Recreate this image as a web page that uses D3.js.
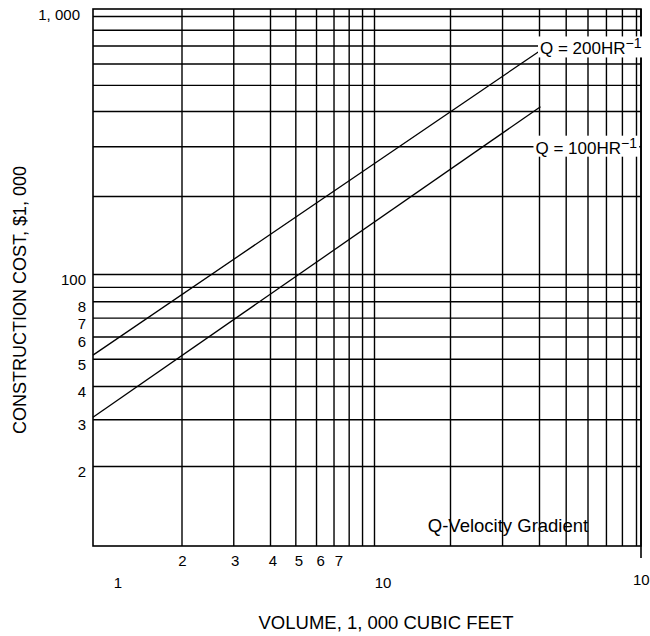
<!DOCTYPE html>
<html>
<head>
<meta charset="UTF-8">
<title>Construction cost vs volume</title>
<style>
  body { margin: 0; background: #fff; }
  text { font-family: "Liberation Sans", Arial, sans-serif; fill: #000; }
</style>
</head>
<body>
<div id="chart"></div>
<script src="https://cdn.jsdelivr.net/npm/d3@7"></script>
<script>
// grid values (log-log paper)
var xGrid = [2, 3, 4, 5, 6, 7, 8, 9, 10, 20, 30, 40, 50, 60, 70, 80, 90];
var yGrid = [20, 30, 40, 50, 60, 70, 80, 90, 100, 200, 300, 400, 500, 600, 700, 800, 900];

// tick labels as printed on the chart
var xTickValues = [2, 3, 4, 5, 6, 7];
var xTickLabels = ["2", "3", "4", "5", "6", "7"];
var xMajorValues = [1, 10, 100];
var xMajorLabels = ["1", "10", "100"];
var yTickValues = [1000, 100, 80, 70, 60, 50, 40, 30, 20];
var yTickLabels = ["1, 000", "100", "8", "7", "6", "5", "4", "3", "2"];

// lines: volume (1,000 cu ft) -> cost ($1,000)
var lineNames = ["Q = 200HR", "Q = 100HR"];
var lineVolume = [[1, 40], [1, 40.5]];
var lineCost = [[51.5, 665], [30.5, 415]];

var width = 650, height = 636;
var svg = d3.select("#chart").append("svg")
  .attr("width", width).attr("height", height);

// the printed paper is a little uneven, so the log scales are piecewise
var x = d3.scaleLog()
  .domain([1, 4, 10, 20, 40, 90, 100])
  .range([93, 270, 374, 450, 539, 636, 641]);
var y = d3.scaleLog()
  .domain([10, 40, 100, 200, 400, 900, 1000])
  .range([546, 386, 274, 196, 111, 16, 9]);

// vertical grid
svg.append("g")
  .attr("transform", "translate(0," + y(10) + ")")
  .call(d3.axisBottom(x).tickValues(xGrid).tickSize(-(y(10) - y(1000))).tickFormat(""))
  .call(function(g) {
    g.select(".domain").remove();
    g.selectAll("line").attr("stroke", "#000").attr("stroke-width", 1.4);
  });

// horizontal grid
svg.append("g")
  .attr("transform", "translate(" + x(1) + ",0)")
  .call(d3.axisLeft(y).tickValues(yGrid).tickSize(-(x(100) - x(1))).tickFormat(""))
  .call(function(g) {
    g.select(".domain").remove();
    g.selectAll("line").attr("stroke", "#000").attr("stroke-width", 1.4);
  });

// frame
svg.append("rect")
  .attr("x", x(1)).attr("y", y(1000))
  .attr("width", x(100) - x(1)).attr("height", y(10) - y(1000))
  .attr("fill", "none").attr("stroke", "#000").attr("stroke-width", 1.6);
svg.append("line")
  .attr("x1", x(100)).attr("x2", x(100))
  .attr("y1", y(1000)).attr("y2", y(10) + 12)
  .attr("stroke", "#000").attr("stroke-width", 1.6);

// cost lines
lineNames.forEach(function(name, i) {
  var pts = lineVolume[i].map(function(v, j) { return [v, lineCost[i][j]]; });
  svg.append("path")
    .attr("d", d3.line().x(function(d) { return x(d[0]); }).y(function(d) { return y(d[1]); })(pts))
    .attr("fill", "none").attr("stroke", "#000").attr("stroke-width", 1.3);

  var end = pts[pts.length - 1];
  var lab = svg.append("g");
  var bg = lab.append("rect").attr("fill", "#fff");
  var t = lab.append("text")
    .attr("x", x(end[0]) + (i === 0 ? 1 : -5))
    .attr("y", y(end[1]) + (i === 0 ? 3 : 47))
    .attr("font-size", "17px");
  t.append("tspan").text(name);
  t.append("tspan").attr("dy", -6).attr("font-size", "14px").text("\u22121");
  var b = t.node().getBBox();
  bg.attr("x", b.x - 2).attr("y", b.y + 1).attr("width", b.width + 4).attr("height", b.height - 2);
});

// x tick labels
svg.append("g").selectAll("text")
  .data(xTickValues)
  .join("text")
  .attr("x", function(d, i) { return x(d) + 1 + i * 0.9; })
  .attr("y", 566)
  .attr("text-anchor", "middle")
  .attr("font-size", "15px")
  .text(function(d, i) { return xTickLabels[i]; });

svg.append("g").selectAll("text")
  .data(xMajorValues)
  .join("text")
  .attr("x", function(d, i) { return i === 2 ? x(d) - 8 : x(d) + (i === 0 ? 25 : 9); })
  .attr("y", function(d, i) { return i === 2 ? 585 : 588; })
  .attr("text-anchor", function(d, i) { return i === 2 ? "start" : "middle"; })
  .attr("font-size", "15px")
  .text(function(d, i) { return xMajorLabels[i]; });

// y tick labels
svg.append("g").selectAll("text")
  .data(yTickValues)
  .join("text")
  .attr("x", function(d) { return d === 1000 ? 80 : 86; })
  .attr("y", function(d) { return y(d) + 11; })
  .attr("text-anchor", "end")
  .attr("font-size", "15px")
  .text(function(d, i) { return yTickLabels[i]; });

// annotation
svg.append("text")
  .attr("x", 508).attr("y", 532)
  .attr("text-anchor", "middle")
  .attr("font-size", "18.5px")
  .text("Q-Velocity Gradient");

// axis titles
svg.append("text")
  .attr("x", 386).attr("y", 629)
  .attr("text-anchor", "middle")
  .attr("font-size", "18.5px")
  .text("VOLUME, 1, 000 CUBIC FEET");

svg.append("text")
  .attr("transform", "translate(26,300) rotate(-90)")
  .attr("text-anchor", "middle")
  .attr("font-size", "18px")
  .text("CONSTRUCTION COST, $1, 000");
</script>
</body>
</html>
